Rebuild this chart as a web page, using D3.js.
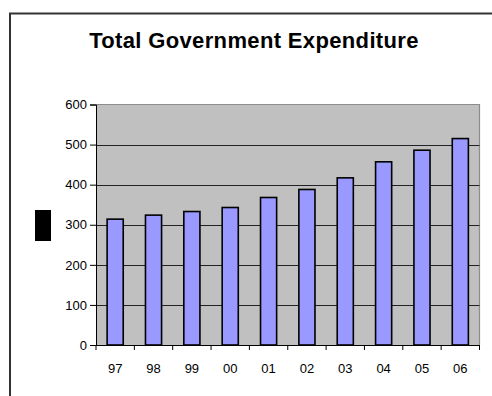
<!DOCTYPE html>
<html>
<head>
<meta charset="utf-8">
<script src="https://cdn.jsdelivr.net/npm/d3@7"></script>
<style>
  html, body { margin: 0; padding: 0; background: #fff; overflow: hidden; }
  svg { display: block; }
</style>
</head>
<body>
<script>
// Total government expenditure by year
const years = ["97", "98", "99", "00", "01", "02", "03", "04", "05", "06"];
const expenditure = [314, 324, 333, 343, 368, 388, 417, 457, 486, 515];
const yTicks = [0, 100, 200, 300, 400, 500, 600];
const title = "Total Government Expenditure";

const W = 492, H = 396;
const plot = { left: 96, right: 479.5, top: 104.5, bottom: 345 };
const FONT = "'Liberation Sans', Arial, sans-serif";

const svg = d3.select("body").append("svg")
  .attr("width", W).attr("height", H);

// outer chart frame: only its top and left edges fall inside the view
svg.append("path")
  .attr("d", `M10,${H}V13.5H${W}`)
  .attr("fill", "none").attr("stroke", "#333").attr("stroke-width", 2);

svg.append("text")
  .attr("x", 254).attr("y", 48)
  .attr("text-anchor", "middle")
  .attr("font-family", FONT)
  .attr("font-weight", "bold").attr("font-size", 22)
  .attr("letter-spacing", 0.35)
  .attr("fill", "#000")
  .text(title);

const x = d3.scaleBand().domain(years).range([plot.left, plot.right]).paddingInner(0.58).paddingOuter(0.29);
const band = d3.scaleBand().domain(years).range([plot.left, plot.right]);
const y = d3.scaleLinear().domain([0, 600]).range([plot.bottom, plot.top]);

// plot background with a grey border along its top and right
svg.append("rect")
  .attr("x", plot.left).attr("y", plot.top)
  .attr("width", plot.right - plot.left).attr("height", plot.bottom - plot.top)
  .attr("fill", "#c0c0c0");
svg.append("path")
  .attr("d", `M${plot.left},${plot.top}H${plot.right}V${plot.bottom}`)
  .attr("fill", "none").attr("stroke", "#8c8c8c").attr("stroke-width", 1.2);

// horizontal gridlines
svg.append("g").selectAll("line")
  .data(yTicks.filter(t => t > 0 && t < 600))
  .join("line")
  .attr("x1", plot.left).attr("x2", plot.right)
  .attr("y1", d => Math.round(y(d)) + 0.5).attr("y2", d => Math.round(y(d)) + 0.5)
  .attr("stroke", "#222").attr("stroke-width", 1);

// bars
svg.append("g").selectAll("rect")
  .data(expenditure)
  .join("rect")
  .attr("x", (d, i) => x(years[i]))
  .attr("y", d => y(d))
  .attr("width", x.bandwidth())
  .attr("height", d => y(0) - y(d))
  .attr("fill", "#9999ff").attr("stroke", "#000").attr("stroke-width", 1.6);

// y axis
const yAxis = d3.axisLeft(y).tickValues(yTicks).tickSize(6).tickPadding(3).tickFormat(d3.format("d"));
const gy = svg.append("g").attr("transform", `translate(${plot.left},0)`).call(yAxis);
gy.attr("font-family", FONT).attr("font-size", 13);
gy.select(".domain").attr("stroke", "#000");
gy.selectAll(".tick line").attr("stroke", "#000");
gy.selectAll("text").attr("fill", "#000");

// x axis: ticks at category boundaries
const gx = svg.append("g").attr("transform", `translate(0,${plot.bottom})`);
gx.append("line").attr("x1", plot.left).attr("x2", plot.right + 0.5)
  .attr("y1", 0.5).attr("y2", 0.5).attr("stroke", "#000");
gx.selectAll("line.tk")
  .data(years.map(d => band(d)).concat([plot.right]))
  .join("line").attr("class", "tk")
  .attr("x1", d => d).attr("x2", d => d)
  .attr("y1", 0).attr("y2", 5).attr("stroke", "#000");
gx.selectAll("text")
  .data(years)
  .join("text")
  .attr("x", d => band(d) + band.bandwidth() / 2)
  .attr("y", 28)
  .attr("text-anchor", "middle")
  .attr("font-family", FONT)
  .attr("font-size", 13).attr("fill", "#000")
  .text(d => d);

// y axis title block
svg.append("rect")
  .attr("x", 35).attr("y", 210).attr("width", 16).attr("height", 31)
  .attr("fill", "#000");
</script>
</body>
</html>
